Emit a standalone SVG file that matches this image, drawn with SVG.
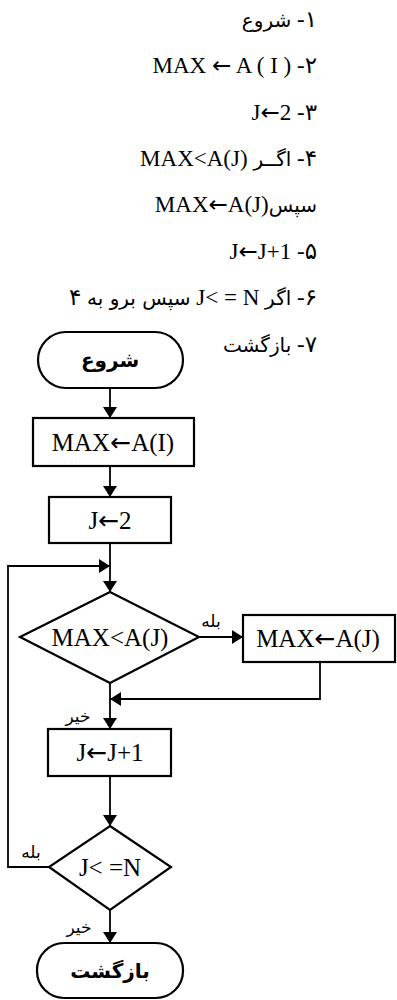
<svg xmlns="http://www.w3.org/2000/svg" width="397" height="1000" viewBox="0 0 397 1000">
<style>
.t{font-family:"Liberation Serif","DejaVu Sans",serif;font-size:23px;fill:#000;text-anchor:end}
.fa{font-family:"DejaVu Sans",sans-serif;font-size:20px}
.ar{font-family:"DejaVu Sans",sans-serif}
.shape{fill:#fff;stroke:#000;stroke-width:2.2}
.lbl{font-family:"Liberation Serif","DejaVu Sans",serif;font-size:25px;fill:#000;text-anchor:middle}
.term{font-family:"DejaVu Sans",sans-serif;font-size:20px;font-weight:bold;fill:#000;text-anchor:middle}
.small{font-family:"DejaVu Sans",sans-serif;font-size:17px;fill:#000;text-anchor:middle}
.ln{fill:none;stroke:#000;stroke-width:1.8}
</style>
<defs>
<marker id="ah" viewBox="0 0 11 14" refX="11" refY="7" markerWidth="11" markerHeight="14" markerUnits="userSpaceOnUse" orient="auto">
<path d="M0,0 L11,7 L0,14 z" fill="#000"/>
</marker>
</defs>
<g id="algorithm">
<text class="t" x="317" y="27">&#x202B;۱- <tspan class="fa">شروع</tspan>&#x202C;</text>
<text class="t" x="317" y="73">&#x202B;۲- &#x202A;MAX <tspan class="ar">←</tspan> A ( I )&#x202C;&#x202C;</text>
<text class="t" x="317" y="120">&#x202B;۳- &#x202A;J<tspan class="ar">←</tspan>2&#x202C;&#x202C;</text>
<text class="t" x="317" y="166">&#x202B;۴- <tspan class="fa">اگــر</tspan>  &#x202A;MAX&lt;A(J)&#x202C;&#x202C;</text>
<text class="t" x="317" y="212">&#x202B;<tspan class="fa">سپس</tspan>&#x202A;MAX<tspan class="ar">←</tspan>A(J)&#x202C;&#x202C;</text>
<text class="t" x="317" y="259">&#x202B;۵-  &#x202A;J<tspan class="ar">←</tspan>J+1&#x202C;&#x202C;</text>
<text class="t" x="317" y="305">&#x202B;۶- <tspan class="fa">اگر</tspan> &#x202A;J&lt; = N&#x202C; <tspan class="fa">سپس برو به</tspan> ۴&#x202C;</text>
<text class="t" x="317" y="352">&#x202B;۷- <tspan class="fa">بازگشت</tspan>&#x202C;</text>
</g>
<g id="connectors">
<path class="ln" d="M110,388 V418" marker-end="url(#ah)"/>
<path class="ln" d="M110,466 V497" marker-end="url(#ah)"/>
<path class="ln" d="M110,543 V592" marker-end="url(#ah)"/>
<path class="ln" d="M49,867 H8 V566 H110" marker-end="url(#ah)"/>
<path class="ln" d="M199,637 H243" marker-end="url(#ah)"/>
<path class="ln" d="M320,662 V699 H110" marker-end="url(#ah)"/>
<path class="ln" d="M110,683 V729" marker-end="url(#ah)"/>
<path class="ln" d="M110,776 V826" marker-end="url(#ah)"/>
<path class="ln" d="M110,910 V943" marker-end="url(#ah)"/>
<text class="small" x="211" y="627">بله</text>
<text class="small" x="78" y="722">خیر</text>
<text class="small" x="31" y="858">بله</text>
<text class="small" x="79" y="933">خیر</text>
</g>
<g id="start">
<rect class="shape" x="38" y="332" width="145" height="56" rx="28"/>
<text class="term" x="110" y="367">شروع</text>
</g>
<g id="maxInit">
<rect class="shape" x="33" y="418" width="161" height="48"/>
<text class="lbl" x="113" y="451">MAX<tspan class="ar">←</tspan>A(I)</text>
</g>
<g id="jInit">
<rect class="shape" x="49" y="497" width="122" height="46"/>
<text class="lbl" x="110" y="529">J<tspan class="ar">←</tspan>2</text>
</g>
<g id="cond1">
<polygon class="shape" points="110,592 199,637 110,683 20,637"/>
<text class="lbl" x="110" y="646">MAX&lt;A(J)</text>
</g>
<g id="maxSet">
<rect class="shape" x="243" y="615" width="152" height="47"/>
<text class="lbl" x="318" y="647">MAX<tspan class="ar">←</tspan>A(J)</text>
</g>
<g id="jInc">
<rect class="shape" x="48" y="729" width="123" height="47"/>
<text class="lbl" x="110" y="761">J<tspan class="ar">←</tspan>J+1</text>
</g>
<g id="cond2">
<polygon class="shape" points="110,826 171,867 110,910 49,867"/>
<text class="lbl" x="110" y="876">J&lt; =N</text>
</g>
<g id="end">
<rect class="shape" x="37" y="943" width="146" height="55" rx="27"/>
<text class="term" x="110" y="978">بازگشت</text>
</g>
</svg>
